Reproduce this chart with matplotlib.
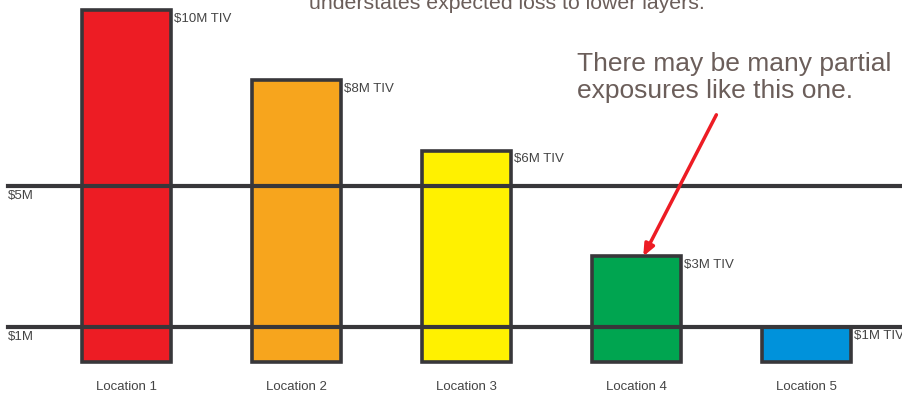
import matplotlib
matplotlib.use('Agg')
import matplotlib.pyplot as plt

plt.rcParams['font.family'] = ['Liberation Sans', 'DejaVu Sans']

# locations and their total insured value ($M)
locations = ['Location 1', 'Location 2', 'Location 3', 'Location 4', 'Location 5']
tiv = [10, 8, 6, 3, 1]
tiv_labels = ['$10M TIV', '$8M TIV', '$6M TIV', '$3M TIV', '$1M TIV']
colors = ['#ed1c24', '#f7a51d', '#fff100', '#00a550', '#0092db']

# layer attachment / exhaustion points ($M)
layers = [5, 1]
layer_labels = ['$5M', '$1M']

edge = '#38373a'
note_color = '#6b5e5a'

fig = plt.figure(figsize=(9.02, 3.97), dpi=100)
ax = fig.add_axes([0, 0, 1, 1])
ax.set_xlim(0.256, 5.562)
ax.set_ylim(-0.994, 10.28)
ax.axis('off')

xs = list(range(1, len(locations) + 1))
ax.bar(xs, tiv, width=0.524, color=colors, edgecolor=edge, linewidth=2.6, zorder=2)

for x, v, lab in zip(xs, tiv, tiv_labels):
    ax.annotate(lab, (x + 0.262, v), xytext=(2, -2), textcoords='offset points',
                ha='left', va='top', fontsize=9.5, color='#444444', zorder=4)
    ax.text(x, -0.72, locations[x - 1], ha='center', va='center', fontsize=9.5,
            color='#444444')

for y, lab in zip(layers, layer_labels):
    ax.axhline(y, xmin=8 / 902, xmax=1, color=edge, linewidth=3, zorder=3)
    ax.annotate(lab, (0.303, y), xytext=(0, -3), textcoords='offset points',
                ha='left', va='top', fontsize=9.5, color='#444444')

ax.text(3.24, 10.03, 'understates expected loss to lower layers.',
        ha='center', va='baseline', fontsize=15.3, color=note_color)

ax.text(3.65, 8.8, 'There may be many partial\nexposures like this one.',
        ha='left', va='top', fontsize=19, color=note_color, linespacing=1.17)

ax.annotate('', xy=(4.04, tiv[3]), xytext=(4.47, 7.02),
            arrowprops=dict(arrowstyle='-|>,head_length=0.7,head_width=0.3',
                            color='#ed1c24', lw=2.5, shrinkA=0, shrinkB=0),
            zorder=5)

fig.savefig('out.png', dpi=100)
